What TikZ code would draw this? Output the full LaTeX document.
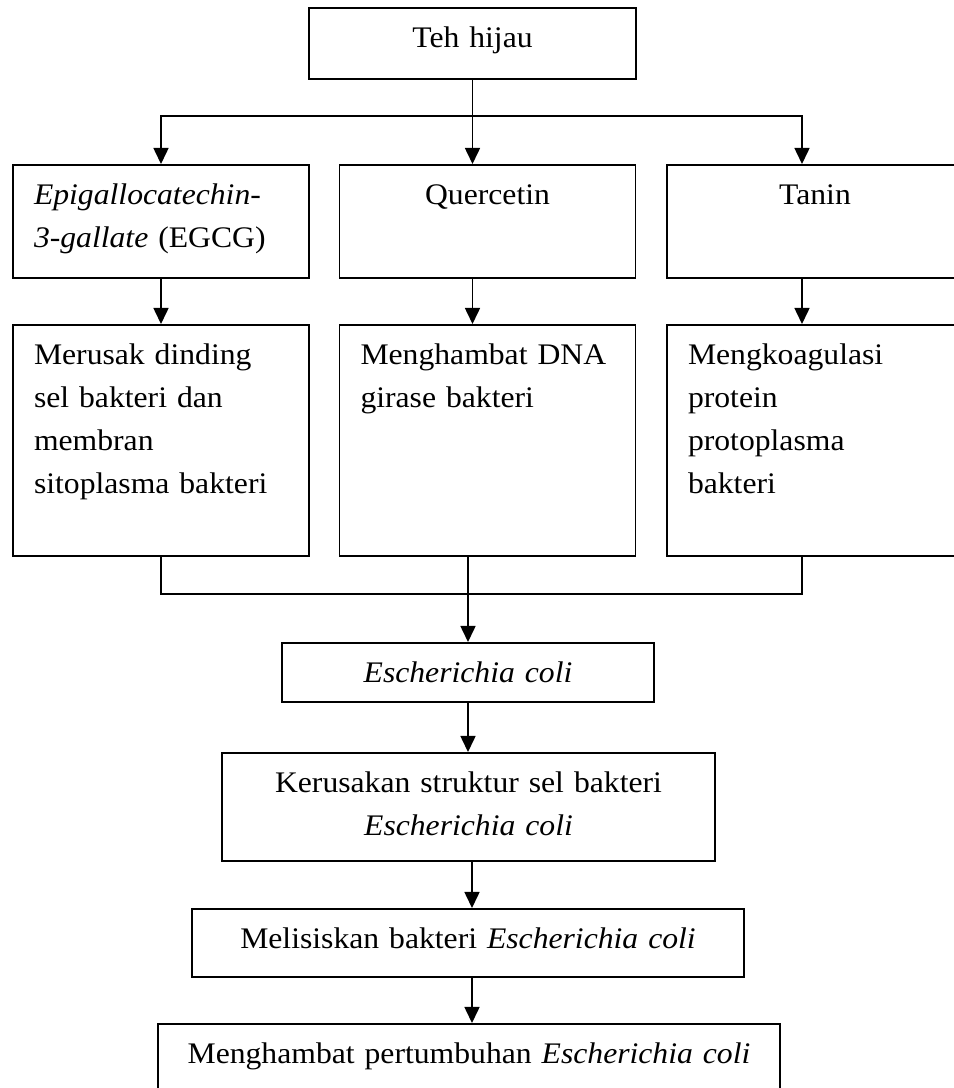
\documentclass[tikz,border=0pt]{standalone}
\usepackage{fontspec}
\setmainfont{Liberation Serif}[FakeStretch=1.06]
\usepackage{tikz}
\usetikzlibrary{arrows.meta}

\begin{document}
\begin{tikzpicture}[font={\fontsize{17pt}{24.4pt}\selectfont},
	>={Triangle[length=0.32cm,width=0.30cm]},
	kotak/.style={draw, line width=0.9pt, anchor=north, inner xsep=0.42cm, inner ysep=0pt, text height=0.8cm},
	garis/.style={line width=0.9pt}]
	\useasboundingbox (0,0) rectangle (19.08,21.76);

	%Teh hijau
	\node[kotak, text width=5.70cm, align=center, text depth=0.63cm] (teh) at (9.45,21.62) {Teh hijau};

	%Senyawa
	\node[kotak, text width=5.08cm, align=left, text depth=1.46cm] (egcg) at (3.22,18.48) {\textit{Epigallocatechin-}\\\textit{3-gallate} (EGCG)};
	\node[kotak, text width=5.08cm, align=center, text depth=1.46cm] (quer) at (9.75,18.48) {Quercetin};
	\node[kotak, text width=5.08cm, align=center, text depth=1.46cm] (tanin) at (16.30,18.48) {Tanin};

	%Mekanisme
	\node[kotak, text width=5.08cm, align=left, text depth=3.82cm] (merusak) at (3.22,15.28) {Merusak dinding\\sel bakteri dan\\membran\\sitoplasma bakteri};
	\node[kotak, text width=5.08cm, align=left, text depth=3.82cm] (dna) at (9.75,15.28) {Menghambat DNA\\girase bakteri};
	\node[kotak, text width=5.08cm, align=left, text depth=3.82cm] (koag) at (16.30,15.28) {Mengkoagulasi\\protein\\protoplasma\\bakteri};

	%Bakteri
	\node[kotak, text width=6.60cm, align=center, text depth=0.38cm] (ecoli) at (9.36,8.92) {\textit{Escherichia coli}};
	\node[kotak, text width=9.02cm, align=center, text depth=1.36cm] (rusak) at (9.37,6.72) {Kerusakan struktur sel bakteri\\\textit{Escherichia coli}};
	\node[kotak, text width=10.20cm, align=center, text depth=0.56cm] (lisis) at (9.36,3.60) {Melisiskan bakteri \textit{Escherichia coli}};
	\node[kotak, text width=11.60cm, align=center, text depth=1.20cm] (hambat) at (9.38,1.30) {Menghambat pertumbuhan \textit{Escherichia coli}};

	%Percabangan
	\coordinate (cabang) at (9.45,19.44);
	\coordinate (kolC) at (16.04,0);
	\coordinate (gabung) at (9.36,9.88);
	\coordinate (kolB) at (9.44,0);

	\draw[garis] (teh.south) -- (cabang);
	\draw[garis, ->] (cabang) -| (egcg.north);
	\draw[garis, ->] (cabang) -- (cabang |- quer.north);
	\draw[garis, ->] (cabang) -| (kolC |- tanin.north);

	\draw[garis, ->] (egcg.south) -- (merusak.north);
	\draw[garis, ->] (quer.south -| cabang) -- (dna.north -| cabang);
	\draw[garis, ->] (tanin.south -| kolC) -- (koag.north -| kolC);

	%Penggabungan
	\draw[garis] (merusak.south) |- (gabung) -| (koag.south -| kolC);
	\draw[garis] (dna.south -| gabung) -- (gabung);
	\draw[garis, ->] (gabung) -- (ecoli.north);

	\draw[garis, ->] (ecoli.south) -- (ecoli.south |- rusak.north);
	\draw[garis, ->] (rusak.south -| kolB) -- (lisis.north -| kolB);
	\draw[garis, ->] (lisis.south -| kolB) -- (hambat.north -| kolB);

\end{tikzpicture}
\end{document}
